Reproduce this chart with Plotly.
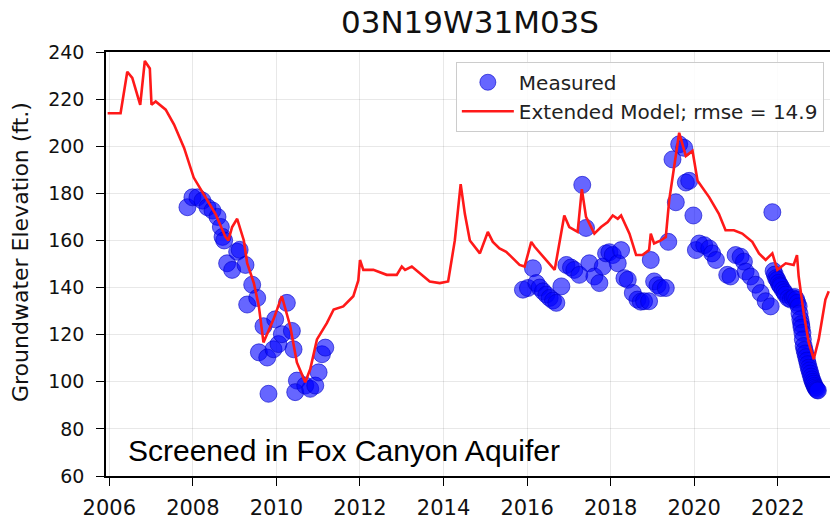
import plotly.graph_objects as go

# ---- data (decimal years, elevation ft) ----
model_years = [2005.96, 2006.27, 2006.43, 2006.55, 2006.74, 2006.85, 2006.97, 2007.01, 2007.11, 2007.35,
               2007.55, 2007.79, 2008.02, 2008.26, 2008.54, 2008.78, 2008.85, 2008.94, 2009.06, 2009.22,
               2009.30, 2009.46, 2009.58, 2009.69, 2009.93, 2010.13, 2010.33, 2010.49, 2010.69, 2010.81,
               2010.97, 2011.21, 2011.37, 2011.60, 2011.84, 2011.96, 2012.00, 2012.08, 2012.32, 2012.64,
               2012.88, 2013.00, 2013.08, 2013.24, 2013.43, 2013.67, 2013.91, 2014.11, 2014.27, 2014.41,
               2014.51, 2014.63, 2014.87, 2015.06, 2015.18, 2015.34, 2015.50, 2015.82, 2015.94, 2016.10,
               2016.18, 2016.38, 2016.66, 2016.89, 2017.01, 2017.21, 2017.31, 2017.41, 2017.61, 2017.77,
               2017.93, 2018.05, 2018.17, 2018.25, 2018.45, 2018.61, 2018.76, 2018.92, 2018.96, 2019.04,
               2019.20, 2019.32, 2019.40, 2019.64, 2019.80, 2019.96, 2020.08, 2020.36, 2020.59, 2020.75,
               2020.95, 2021.15, 2021.39, 2021.55, 2021.71, 2021.87, 2021.99, 2022.19, 2022.38, 2022.46,
               2022.50, 2022.62, 2022.74, 2022.86, 2022.98, 2023.14, 2023.22]
model_vals = [214.0, 214.0, 231.6, 229.0, 217.6, 236.2, 233.0, 217.6, 219.0, 215.5,
              209.2, 199.3, 186.7, 179.7, 171.3, 161.5, 160.0, 165.7, 169.2, 160.0,
              150.3, 141.9, 132.0, 116.7, 126.5, 136.3, 123.6, 108.2, 99.8, 105.4,
              118.0, 125.0, 130.7, 132.0, 136.3, 143.0, 151.7, 147.5, 147.5, 145.4,
              145.4, 148.9, 147.5, 148.9, 146.0, 142.6, 141.9, 142.6, 160.0, 183.9,
              171.3, 160.0, 154.5, 163.6, 159.4, 156.6, 155.2, 149.6, 148.9, 159.4,
              157.3, 153.1, 147.5, 170.6, 165.7, 163.6, 181.8, 170.0, 162.9, 165.7,
              167.8, 170.6, 169.2, 170.6, 162.9, 153.8, 153.8, 155.9, 162.9, 158.7,
              160.0, 161.5, 176.9, 205.7, 195.8, 198.0, 185.3, 178.3, 171.3, 164.3,
              164.3, 162.9, 159.4, 154.5, 151.7, 154.5, 147.5, 150.3, 149.6, 153.8,
              144.7, 129.3, 116.7, 109.6, 118.0, 134.9, 138.4]

meas_years = [2007.87, 2007.99, 2008.11, 2008.23, 2008.35, 2008.47, 2008.59, 2008.67, 2008.71, 2008.75,
              2008.82, 2008.94, 2009.06, 2009.12, 2009.26, 2009.30, 2009.42, 2009.54, 2009.58, 2009.69,
              2009.78, 2009.81, 2009.93, 2009.97, 2010.05, 2010.13, 2010.25, 2010.37, 2010.41, 2010.49,
              2010.45, 2010.69, 2010.81, 2010.93, 2011.01, 2011.09, 2011.17,
              2015.90, 2016.02, 2016.14, 2016.22, 2016.30, 2016.38, 2016.46, 2016.54, 2016.62, 2016.70,
              2016.82, 2016.94, 2017.05, 2017.13, 2017.25, 2017.32, 2017.41, 2017.49, 2017.61, 2017.73,
              2017.81, 2017.89, 2017.97, 2018.05, 2018.17, 2018.25, 2018.33, 2018.41, 2018.53, 2018.64,
              2018.72, 2018.80, 2018.92, 2018.96, 2019.04, 2019.12, 2019.20, 2019.32, 2019.38, 2019.48,
              2019.56, 2019.64, 2019.76, 2019.80, 2019.88, 2019.98, 2020.04, 2020.12, 2020.24, 2020.36,
              2020.43, 2020.52, 2020.79, 2020.87, 2020.99, 2021.11, 2021.19, 2021.23, 2021.35, 2021.47,
              2021.59, 2021.71, 2021.83, 2021.87,
              2021.90, 2021.93, 2021.96, 2021.99, 2022.02, 2022.05, 2022.07, 2022.12, 2022.16, 2022.19,
              2022.25, 2022.31, 2022.36, 2022.40, 2022.44, 2022.47, 2022.50, 2022.52, 2022.54, 2022.56,
              2022.57, 2022.59, 2022.60, 2022.62, 2022.64, 2022.66, 2022.68, 2022.70, 2022.72, 2022.74,
              2022.76, 2022.78, 2022.80, 2022.82, 2022.84, 2022.86, 2022.88, 2022.90, 2022.92, 2022.94,
              2022.96]
meas_vals = [174.1, 178.3, 178.3, 176.9, 174.1, 172.7, 170.0, 165.7, 161.5, 160.0,
             150.3, 147.5, 155.2, 156.0, 149.6, 132.8, 141.2, 135.6, 112.5, 123.6,
             110.3, 94.9, 113.8, 126.5, 116.0, 120.2, 133.5, 121.6, 113.8, 100.5,
             95.6, 98.4, 97.0, 98.4, 104.0, 111.7, 114.5,
             139.1, 139.8, 148.2, 141.9, 140.0, 138.4, 137.0, 135.6, 134.5, 133.5,
             140.5, 149.6, 148.5, 147.5, 145.4, 183.6, 165.3, 150.3, 144.7, 141.9,
             148.9, 154.5, 155.0, 153.8, 150.3, 155.9, 144.0, 143.3, 137.7, 134.9,
             134.0, 134.2, 134.2, 151.7, 142.6, 141.0, 139.8, 139.8, 159.4, 194.4,
             176.2, 200.8, 199.3, 184.6, 185.3, 170.6, 155.9, 158.7, 158.0, 156.6,
             154.5, 151.7, 145.4, 144.7, 153.8, 153.1, 151.0, 146.8, 144.7, 141.2,
             137.7, 134.2, 132.0, 172.0,
             147.0, 145.5, 144.0, 143.3, 142.0, 141.0, 140.5, 139.0, 138.0, 137.0,
             135.5, 134.9, 135.5, 136.0, 135.0, 133.5, 132.0, 129.0, 126.5, 124.5,
             123.0, 120.8, 118.0, 115.2, 113.5, 112.0, 110.5, 109.0, 107.5, 106.0,
             104.8, 103.5, 102.2, 101.0, 100.0, 99.2, 98.3, 97.6, 97.0, 96.5,
             96.3]

x_ticks = [2006, 2008, 2010, 2012, 2014, 2016, 2018, 2020, 2022]
y_ticks = [60, 80, 100, 120, 140, 160, 180, 200, 220, 240]

title_text = "03N19W31M03S"
y_label = "Groundwater Elevation (ft.)"
note_text = "Screened in Fox Canyon Aquifer"

FONT = "DejaVu Sans"

fig = go.Figure()
fig.add_trace(go.Scatter(
    x=meas_years, y=meas_vals, mode="markers", name="Measured",
    marker=dict(size=17, color="rgba(0,0,255,0.6)",
                line=dict(color="rgba(0,0,200,0.6)", width=1)),
))
fig.add_trace(go.Scatter(
    x=model_years, y=model_vals, mode="lines",
    name="Extended Model; rmse = 14.9",
    line=dict(color="rgb(255,25,25)", width=2.6),
))

axis_common = dict(
    showline=True, linecolor="black", linewidth=1.5,
    ticks="outside", ticklen=8, tickwidth=1.3, tickcolor="black",
    showgrid=True, gridcolor="rgba(0,0,0,0.09)", gridwidth=1,
    zeroline=False, automargin=False,
)

fig.update_layout(
    width=830, height=521,
    margin=dict(l=106, r=0, t=52, b=45),
    plot_bgcolor="white", paper_bgcolor="white",
    title=dict(text=title_text, x=470 / 830, xref="container", xanchor="center",
               y=1 - 22 / 521, yref="container", yanchor="middle",
               font=dict(family=FONT, size=31, color="#111"), automargin=False),
    xaxis=dict(range=[2005.921, 2023.25], tickvals=x_ticks,
               ticktext=[str(v) for v in x_ticks], mirror=True,
               tickfont=dict(family=FONT, size=21, color="#111"),
               ticklabelstandoff=4, **axis_common),
    yaxis=dict(range=[60, 240], tickvals=y_ticks, mirror=False,
               tickfont=dict(family=FONT, size=19, color="#111"),
               ticklabelstandoff=8, **axis_common),
    legend=dict(x=0.9915, y=0.977, xanchor="right", yanchor="top",
                bgcolor="rgba(255,255,255,0.85)", bordercolor="#cccccc", borderwidth=1,
                font=dict(family=FONT, size=20, color="#222"), itemwidth=52),
    showlegend=True,
)

fig.add_annotation(text=y_label, textangle=-90, xref="paper", yref="paper",
                   x=-(106 - 20) / 724, y=1 - (252 - 52) / 424, xanchor="center", yanchor="middle",
                   showarrow=False, font=dict(family=FONT, size=22, color="#111"))
fig.add_annotation(text=note_text, xref="paper", yref="paper",
                   x=(126 - 106) / 724, y=1 - (450 - 52) / 424, xanchor="left", yanchor="middle",
                   showarrow=False, font=dict(family="Liberation Sans", size=30, color="black"))

fig.write_html("out.html", config={"displayModeBar": False},
               post_script="document.body.style.margin='0';document.body.style.padding='0';"
                           "document.body.style.overflow='hidden';")
